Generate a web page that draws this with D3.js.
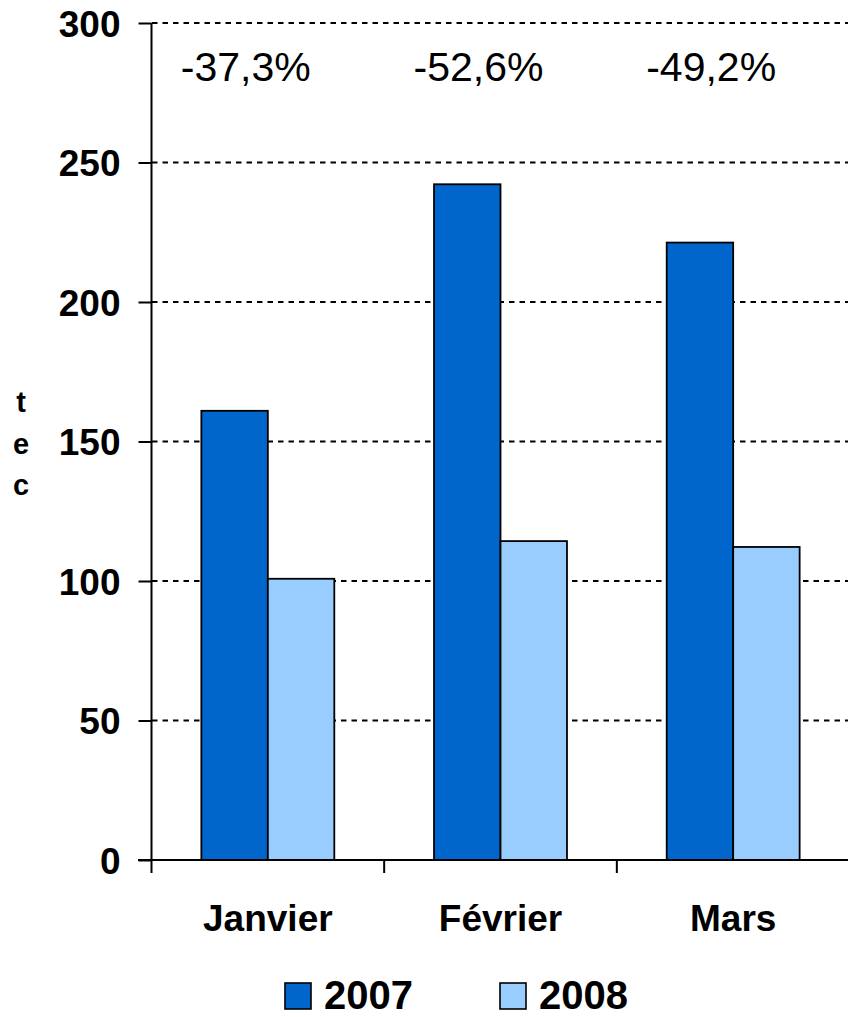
<!DOCTYPE html>
<html>
<head>
<meta charset="utf-8">
<script src="https://cdn.jsdelivr.net/npm/d3@7"></script>
<style>
  html, body { margin: 0; padding: 0; background: #fff; }
  svg { display: block; font-family: "Liberation Sans", Arial, sans-serif; }
</style>
</head>
<body>
<svg id="chart" width="848" height="1017"></svg>
<script>
const categories = ["Janvier", "Février", "Mars"];
const seriesNames = ["2007", "2008"];
const values2007 = [161, 242.2, 221.3];
const values2008 = [100.8, 114.3, 112.2];
const changeLabels = ["-37,3%", "-52,6%", "-49,2%"];
const yTicks = [0, 50, 100, 150, 200, 250, 300];
const colors = ["#0066CC", "#99CCFF"];

const svg = d3.select("#chart");

const x0 = d3.scaleBand().domain(categories).range([151.5, 849.5]).paddingInner(0).paddingOuter(0);
const x1 = d3.scaleBand().domain(seriesNames).range([0, x0.bandwidth()]).paddingInner(0).paddingOuter(0.75);
const y = d3.scaleLinear().domain([0, 300]).range([860, 23]);
const color = d3.scaleOrdinal().domain(seriesNames).range(colors);

const data = categories.map((c, i) => ({
  cat: c,
  vals: [{ s: "2007", v: values2007[i] }, { s: "2008", v: values2008[i] }]
}));

// gridlines
svg.append("g")
  .selectAll("line")
  .data(yTicks.filter(t => t > 0))
  .join("line")
  .attr("x1", 152).attr("x2", 848)
  .attr("y1", d => y(d)).attr("y2", d => y(d))
  .attr("stroke", "#000").attr("stroke-width", 2)
  .attr("stroke-dasharray", "5.5,5");

// bars
svg.append("g")
  .selectAll("g")
  .data(data)
  .join("g")
  .attr("transform", d => `translate(${x0(d.cat)},0)`)
  .selectAll("rect")
  .data(d => d.vals)
  .join("rect")
  .attr("x", d => x1(d.s))
  .attr("width", x1.bandwidth())
  .attr("y", d => y(d.v))
  .attr("height", d => y(0) - y(d.v))
  .attr("fill", d => color(d.s))
  .attr("stroke", "#000")
  .attr("stroke-width", 1.8);

// y axis
const yAxis = d3.axisLeft(y).tickValues(yTicks).tickSize(13).tickPadding(18);
const gy = svg.append("g").attr("transform", "translate(151.5,0)").call(yAxis);
gy.select(".domain").attr("stroke", "#000").attr("stroke-width", 2).attr("d", `M0,${y(300)}V${y(0)}`);
gy.selectAll(".tick line").attr("stroke", "#000").attr("stroke-width", 2);
gy.selectAll(".tick text")
  .attr("font-family", "Liberation Sans, Arial, sans-serif")
  .attr("font-size", 37).attr("font-weight", "bold").attr("fill", "#000")
  .attr("dy", "0.36em");

// x axis
const xAxis = d3.axisBottom(x0).tickSize(0).tickPadding(0);
const gx = svg.append("g").attr("transform", `translate(0,${y(0)})`).call(xAxis);
gx.select(".domain").attr("stroke", "#000").attr("stroke-width", 2).attr("d", "M138,0H848");
gx.selectAll(".tick text")
  .attr("font-family", "Liberation Sans, Arial, sans-serif")
  .attr("font-size", 37).attr("font-weight", "bold").attr("fill", "#000")
  .attr("y", 71).attr("dy", 0);
// category boundary ticks
svg.append("g")
  .selectAll("line")
  .data(categories)
  .join("line")
  .attr("x1", d => x0(d)).attr("x2", d => x0(d))
  .attr("y1", y(0)).attr("y2", y(0) + 13)
  .attr("stroke", "#000").attr("stroke-width", 2);

// change labels
svg.append("g")
  .selectAll("text")
  .data(categories)
  .join("text")
  .attr("x", (d) => x0(d) + x0.bandwidth() / 2 - 22)
  .attr("y", 81)
  .attr("text-anchor", "middle")
  .attr("font-size", 41)
  .attr("fill", "#000")
  .text((d, i) => changeLabels[i]);

// y axis title (stacked letters)
const yTitle = "tec".split("");
svg.append("g")
  .selectAll("text")
  .data(yTitle)
  .join("text")
  .attr("x", 21)
  .attr("y", (d, i) => 412 + i * 41.5)
  .attr("text-anchor", "middle")
  .attr("font-size", 29)
  .attr("font-weight", "bold")
  .attr("fill", "#000")
  .text(d => d);

// legend
const legendX = [285, 500];
const lg = svg.append("g")
  .selectAll("g")
  .data(seriesNames)
  .join("g")
  .attr("transform", (d, i) => `translate(${legendX[i]},983)`);
lg.append("rect")
  .attr("width", 26).attr("height", 26)
  .attr("fill", d => color(d))
  .attr("stroke", "#000").attr("stroke-width", 1.6);
lg.append("text")
  .attr("x", 39).attr("y", 26)
  .attr("font-size", 40).attr("font-weight", "bold").attr("fill", "#000")
  .text(d => d);
</script>
</body>
</html>
